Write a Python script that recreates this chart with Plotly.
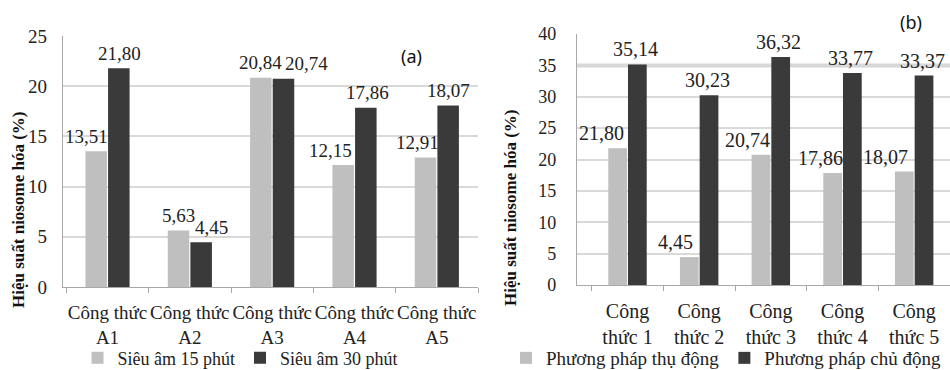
import plotly.graph_objects as go

# ---- data ----
cats_a = ["Công thức<br>A1", "Công thức<br>A2", "Công thức<br>A3", "Công thức<br>A4", "Công thức<br>A5"]
s15 = [13.51, 5.63, 20.84, 12.15, 12.91]
s30 = [21.80, 4.45, 20.74, 17.86, 18.07]
name_s15 = "Siêu âm 15 phút"
name_s30 = "Siêu âm 30 phút"

cats_b = ["Công<br>thức 1", "Công<br>thức 2", "Công<br>thức 3", "Công<br>thức 4", "Công<br>thức 5"]
passive = [21.80, 4.45, 20.74, 17.86, 18.07]
active = [35.14, 30.23, 36.32, 33.77, 33.37]
name_passive = "Phương pháp thụ động"
name_active = "Phương pháp chủ động"

ytitle = "Hiệu suất niosome hóa (%)"

# ---- styling (label nudges in px, relative to each category centre) ----
nudge_s15 = [-21, -11, -12, -24, -19]
nudge_s30 = [12, 22, 34, 13, 12]
nudge_passive = [-26, -24, -23, -22, -29]
nudge_active = [8, 8, 8, 8, 8]

LIGHT = "#bfbfbf"
DARK = "#3a3a3a"
GRID = "#d9d9d9"
SERIF = "Liberation Serif"

W, H = 950, 370
def px(x): return x / W
def py(y): return (H - y) / H

fig = go.Figure()

def add_bar(x, y, name, color, xa, ya, leg):
    fig.add_trace(go.Bar(
        x=x, y=y, name=name, marker=dict(color=color, line=dict(width=0)),
        xaxis=xa, yaxis=ya, legend=leg,
    ))

def add_labels(x, y, xa, ya, shifts, fs):
    for c, v, s in zip(x, y, shifts):
        fig.add_annotation(
            x=c, y=v, xref=xa, yref=ya, xshift=s, yshift=15,
            text=f"{v:.2f}".replace(".", ","), showarrow=False,
            xanchor="center", yanchor="middle",
            font=dict(family=SERIF, size=fs, color="#222222"),
        )

add_bar(cats_a, s15, name_s15, LIGHT, "x", "y", "legend")
add_bar(cats_a, s30, name_s30, DARK, "x", "y", "legend")
add_bar(cats_b, passive, name_passive, LIGHT, "x2", "y2", "legend2")
add_bar(cats_b, active, name_active, DARK, "x2", "y2", "legend2")

add_labels(cats_a, s15, "x", "y", nudge_s15, 19)
add_labels(cats_a, s30, "x", "y", nudge_s30, 19)
add_labels(cats_b, passive, "x2", "y2", nudge_passive, 20)
add_labels(cats_b, active, "x2", "y2", nudge_active, 20)

axis_common = dict(showline=True, linecolor="#a8a8a8", linewidth=1.2, automargin=False)

fig.update_layout(
    width=W, height=H, margin=dict(l=0, r=0, t=0, b=0, autoexpand=False),
    paper_bgcolor="white", plot_bgcolor="white",
    barmode="group", bargap=0.45, bargroupgap=0.05,
    font=dict(family=SERIF, color="#222222"),
    xaxis=dict(domain=[px(63), px(478)], anchor="y", tickson="boundaries", ticks="outside",
               ticklen=5, tickcolor="#a8a8a8", tickangle=0, ticklabelstandoff=8,
               tickfont=dict(size=19), **axis_common),
    yaxis=dict(domain=[py(287), py(36)], anchor="x", range=[0, 25], dtick=5,
               showgrid=True, gridcolor=GRID, gridwidth=1.5, zeroline=False,
               ticks="outside", ticklen=11, tickcolor="rgba(0,0,0,0)",
               tickfont=dict(size=19), **axis_common),
    xaxis2=dict(domain=[px(577), px(950)], anchor="y2", tickson="boundaries", ticks="outside",
                ticklen=5, tickcolor="#a8a8a8", tickangle=0, ticklabelstandoff=8,
                tickfont=dict(size=20), **axis_common),
    yaxis2=dict(domain=[py(285), py(34)], anchor="x2", range=[0, 40], dtick=5,
                showgrid=True, gridcolor=GRID, gridwidth=1.5, zeroline=False,
                ticks="outside", ticklen=16, tickcolor="rgba(0,0,0,0)",
                tickfont=dict(size=18), **axis_common),
    legend=dict(orientation="h", x=px(240), xanchor="center", y=py(358), yanchor="middle",
                font=dict(family=SERIF, size=18), itemwidth=30, traceorder="normal",
                bgcolor="rgba(0,0,0,0)"),
    legend2=dict(orientation="h", x=px(726), xanchor="center", y=py(358), yanchor="middle",
                 font=dict(family=SERIF, size=19), itemwidth=30, traceorder="normal",
                 bgcolor="rgba(0,0,0,0)"),
    showlegend=True,
)

# thicker highlighted gridline at 35 in panel (b)
fig.add_shape(type="line", xref="x2 domain", yref="y2", x0=0, x1=1, y0=35, y1=35,
              line=dict(color="#d6d6d6", width=4), layer="below")

fig.add_annotation(text=ytitle, textangle=-90, xref="paper", yref="paper",
                   x=px(18), y=py(210), xanchor="center", yanchor="middle", showarrow=False,
                   font=dict(family=SERIF, size=17, color="#111111", weight="bold"))
fig.add_annotation(text=ytitle, textangle=-90, xref="paper", yref="paper",
                   x=px(510), y=py(208), xanchor="center", yanchor="middle", showarrow=False,
                   font=dict(family=SERIF, size=17, color="#111111", weight="bold"))
fig.add_annotation(text="(a)", xref="x domain", yref="y domain", x=0.84, y=0.92,
                   xanchor="center", yanchor="middle",
                   showarrow=False, font=dict(family="Noto Sans", size=18, color="#111111"))
fig.add_annotation(text="(b)", xref="paper", yref="paper", x=px(911), y=py(22),
                   xanchor="center", yanchor="middle",
                   showarrow=False, font=dict(family="Noto Sans", size=18, color="#111111"))

fig.write_html("out.html")
